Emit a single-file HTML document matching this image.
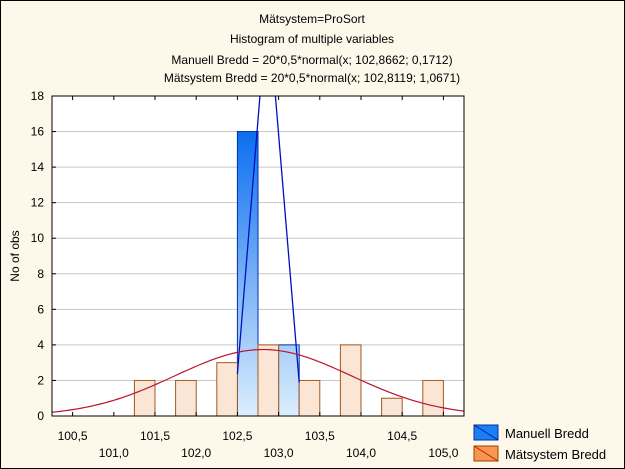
<!DOCTYPE html>
<html><head><meta charset="utf-8"><style>
body{margin:0;background:#fff}
svg{display:block;font-family:"Liberation Sans",sans-serif}
</style></head><body>
<svg id="chart" width="625" height="469" viewBox="0 0 625 469">
<defs>
<linearGradient id="gb" gradientUnits="userSpaceOnUse" x1="0" y1="130" x2="0" y2="416"><stop offset="0" stop-color="#0a6ef0"/><stop offset="1" stop-color="#dceefd"/></linearGradient>
<clipPath id="pc"><rect x="52" y="96" width="412" height="320"/></clipPath>
</defs>
<rect x="0" y="0" width="625" height="469" fill="#fdf8e9" stroke="#000" stroke-width="2"/>
<g font-size="12" fill="#000" text-anchor="middle">
<text x="312" y="23">Mätsystem=ProSort</text>
<text x="312" y="43">Histogram of multiple variables</text>
<text x="312" y="64">Manuell Bredd = 20*0,5*normal(x; 102,8662; 0,1712)</text>
<text x="312" y="82">Mätsystem Bredd = 20*0,5*normal(x; 102,8119; 1,0671)</text>
</g>
<rect x="52" y="96" width="412" height="320" fill="#fff"/>
<g id="grid"></g><g id="bars"></g><g id="curves" clip-path="url(#pc)"></g>
<rect x="52" y="96" width="412" height="320" fill="none" stroke="#000"/>
<g id="axes" font-size="12"></g>
<text transform="translate(19,256) rotate(-90)" font-size="12" text-anchor="middle">No of obs</text>
<g>
<rect x="474" y="425" width="24" height="15" fill="#1a7ff5" stroke="#0030a0"/>
<line x1="474" y1="425" x2="498" y2="440" stroke="#0020a0"/>
<text x="505" y="438" font-size="13">Manuell Bredd</text>
<rect x="474" y="446" width="24" height="15" fill="#f99550" stroke="#a04000"/>
<line x1="474" y1="446" x2="498" y2="461" stroke="#c02000"/>
<text x="505" y="459" font-size="13">Mätsystem Bredd</text>
</g>
</svg>
<script>
const binStarts=[101.25,101.5,101.75,102.0,102.25,102.5,102.75,103.0,103.25,103.5,103.75,104.0,104.25,104.5,104.75];
const orangeCounts=[2,0,2,0,3,0,4,0,2,0,4,0,1,0,2];
const blueCounts=[0,0,0,0,0,16,0,4,0,0,0,0,0,0,0];
const yTicks=[0,2,4,6,8,10,12,14,16,18];
const xTicksTop=[100.5,101.5,102.5,103.5,104.5];
const xTicksBottom=[101.0,102.0,103.0,104.0,105.0];
const blueFit=[102.8662,0.1712];
const orangeFit=[102.8119,1.0671];
const NS="http://www.w3.org/2000/svg";
const X0=100.25,X1=105.25,L=52,R=464,T=96,B=416,YMAX=18,BW=0.25;
const xs=v=>L+(v-X0)/(X1-X0)*(R-L);
const ys=v=>B-v/YMAX*(B-T);
function mk(tag,attrs,parent){const e=document.createElementNS(NS,tag);for(const k in attrs)e.setAttribute(k,attrs[k]);parent.appendChild(e);return e;}
const grid=document.getElementById('grid'),bars=document.getElementById('bars'),curves=document.getElementById('curves'),axes=document.getElementById('axes');
const fmt=v=>v.toFixed(1).replace('.',',');
yTicks.forEach(t=>{
 if(t>0&&t<18){const g=mk('line',{x1:L,x2:R,y1:ys(t),y2:ys(t),stroke:'#c8c8c8'},grid);
 
 }
 const tk=mk('line',{x1:L,x2:L+4,y1:ys(t),y2:ys(t),stroke:'#000'},axes);
 
 
 const tx=mk('text',{x:L-8,y:ys(t)+4,'text-anchor':'end'},axes);tx.textContent=t;
 
 
});
xTicksTop.concat(xTicksBottom).forEach(t=>{
 const a=mk('line',{x1:xs(t),x2:xs(t),y1:B,y2:B-4,stroke:'#000'},axes);
 
 
 const b=mk('line',{x1:xs(t),x2:xs(t),y1:T,y2:T+4,stroke:'#000'},axes);
 
 
});
xTicksTop.forEach(t=>{const tx=mk('text',{x:xs(t),y:440,'text-anchor':'middle'},axes);tx.textContent=fmt(t);
 
 });
xTicksBottom.forEach(t=>{const tx=mk('text',{x:xs(t),y:457,'text-anchor':'middle'},axes);tx.textContent=fmt(t);
 
 });
binStarts.forEach((s,i)=>{
 if(blueCounts[i]>0){const r=mk('rect',{x:xs(s),y:ys(blueCounts[i]),width:xs(s+BW)-xs(s),height:B-ys(blueCounts[i]),fill:'url(#gb)',stroke:'#0030b0'},bars);
 
 }
});
binStarts.forEach((s,i)=>{
 if(orangeCounts[i]>0){const r=mk('rect',{x:xs(s),y:ys(orangeCounts[i]),width:xs(s+BW)-xs(s),height:B-ys(orangeCounts[i]),fill:'#fbe6d6',stroke:'#a05a20'},bars);
 
 }
});
function npdf(x,m,s){const z=(x-m)/s;return 10*Math.exp(-z*z/2)/(s*Math.sqrt(2*Math.PI));}
const bIdx=blueCounts.map((c,i)=>c>0?i:-1).filter(i=>i>=0);
const bLo=binStarts[bIdx[0]],bHi=binStarts[bIdx[bIdx.length-1]]+BW;
const pb=[bLo,blueFit[0],bHi].map(x=>xs(x)+','+ys(npdf(x,blueFit[0],blueFit[1])));
const c1=mk('polyline',{points:pb.join(' '),fill:'none',stroke:'#0010c0','stroke-width':1.3},curves);


let po=[];for(let x=X0;x<=X1+1e-9;x+=0.05)po.push(xs(x)+','+ys(npdf(x,orangeFit[0],orangeFit[1])));
const c2=mk('polyline',{points:po.join(' '),fill:'none',stroke:'#c01030','stroke-width':1.2},curves);


</script>
</body></html>
